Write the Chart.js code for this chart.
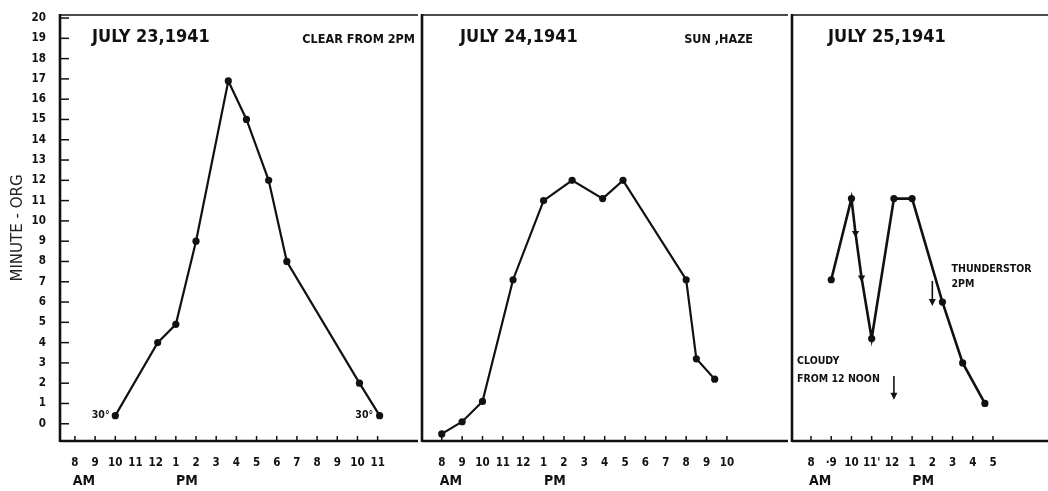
<!DOCTYPE html>
<html>
<head>
<meta charset="utf-8">
<script src="https://cdn.jsdelivr.net/npm/chart.js@4.4.1/dist/chart.umd.min.js"></script>
<style>
  body { margin: 0; background: #fff; }
  #wrap { position: relative; width: 1048px; height: 491px; overflow: hidden; }
  #wrap canvas { position: absolute; top: 0; }
</style>
</head>
<body>
<div id="wrap">
  <canvas id="c23" width="422" height="491" style="left:0"></canvas>
  <canvas id="c24" width="374" height="491" style="left:418px"></canvas>
  <canvas id="c25" width="265" height="491" style="left:788px"></canvas>
</div>
<script>
// values (hour of day, 24h clock)
const yTicks = [0, 1, 2, 3, 4, 5, 6, 7, 8, 9, 10, 11, 12, 13, 14, 15, 16, 17, 18, 19, 20];

const hours23 = [10, 12.1, 13, 14, 15.6, 16.5, 17.6, 18.5, 22.1, 23.1];
const org23 = [0.4, 4, 4.9, 9, 16.9, 15, 12, 8, 2, 0.4];
const ticks23 = [8, 9, 10, 11, 12, 13, 14, 15, 16, 17, 18, 19, 20, 21, 22, 23];
const labels23 = ["8", "9", "10", "11", "12", "1", "2", "3", "4", "5", "6", "7", "8", "9", "10", "11"];

const hours24 = [8, 9, 10, 11.5, 13, 14.4, 15.9, 16.9, 20, 20.5, 21.4];
const org24 = [-0.5, 0.1, 1.1, 7.1, 11, 12, 11.1, 12, 7.1, 3.2, 2.2];
const ticks24 = [8, 9, 10, 11, 12, 13, 14, 15, 16, 17, 18, 19, 20, 21, 22];
const labels24 = ["8", "9", "10", "11", "12", "1", "2", "3", "4", "5", "6", "7", "8", "9", "10"];

const hours25 = [9, 10, 10.2, 10.5, 11, 12.1, 13, 14.5, 15.5, 16.6];
const org25 = [7.1, 11.1, 9.4, 7.2, 4.2, 11.1, 11.1, 6, 3, 1];
const ticks25 = [8, 9, 10, 11, 12, 13, 14, 15, 16, 17];
const labels25 = ["8", "·9", "10", "11'", "12", "1", "2", "3", "4", "5"];

const ink = "#111";
const fontStack = '"DejaVu Sans Condensed", "DejaVu Sans", sans-serif';

function seg(ctx, x1, y1, x2, y2) {
  ctx.beginPath();
  ctx.moveTo(x1, y1);
  ctx.lineTo(x2, y2);
  ctx.stroke();
}

function makeFrame(panel) {
  return {
    id: "frame",
    afterDraw(chart) {
      let { ctx, chartArea: a, scales } = chart;
      let x = scales.x;
      let y = scales.y;
      ctx.save();
      ctx.strokeStyle = ink;
      ctx.fillStyle = ink;

      ctx.lineWidth = 1.6;
      seg(ctx, a.left, a.top, a.right, a.top);
      ctx.lineWidth = 2.6;
      seg(ctx, a.left, a.top - 1, a.left, a.bottom + 1);
      seg(ctx, a.left, a.bottom, a.right, a.bottom);

      ctx.lineWidth = 1.5;
      panel.ticks.forEach((v) => {
        let px = x.getPixelForValue(v);
        seg(ctx, px, a.bottom, px, a.bottom - 5);
      });
      if (panel.showY) {
        yTicks.forEach((v) => {
          let py = y.getPixelForValue(v);
          seg(ctx, a.left, py, a.left + 9, py);
        });
      }

      ctx.textBaseline = "middle";
      ctx.textAlign = "center";
      ctx.font = "bold 14px " + fontStack;
      ctx.fillText("AM", x.getPixelForValue(8.45), a.bottom + 40);
      ctx.fillText("PM", x.getPixelForValue(13.55), a.bottom + 40);

      ctx.textAlign = "left";
      ctx.font = "bold 18px " + fontStack;
      ctx.fillText(panel.date, a.left + panel.dateDx, a.top + 22);
      ctx.textAlign = "right";
      ctx.font = "bold 12.5px " + fontStack;
      ctx.fillText(panel.sky, a.right - panel.skyDx, a.top + 25);

      (panel.notes || []).forEach((n) => {
        ctx.textAlign = n.align;
        ctx.font = "bold 10.5px " + fontStack;
        ctx.fillText(n.text, x.getPixelForValue(n.x), y.getPixelForValue(n.y));
      });

      (panel.arrows || []).forEach((ar) => {
        let px = x.getPixelForValue(ar.x);
        let y1 = y.getPixelForValue(ar.from);
        let y2 = y.getPixelForValue(ar.to);
        ctx.lineWidth = 1.6;
        seg(ctx, px, y1, px, y2 - 6);
        ctx.beginPath();
        ctx.moveTo(px - 3.5, y2 - 7);
        ctx.lineTo(px + 3.5, y2 - 7);
        ctx.lineTo(px, y2);
        ctx.closePath();
        ctx.fill();
      });

      ctx.restore();
    },
  };
}

function makePanel(id, panel) {
  return new Chart(document.getElementById(id), {
    type: "line",
    data: {
      datasets: [
        {
          data: panel.hours.map((h, i) => ({ x: h, y: panel.values[i] })),
          borderColor: ink,
          borderWidth: panel.lineWidth,
          tension: 0,
          pointRadius: panel.pointRadius,
          pointStyle: panel.pointStyle,
          pointRotation: 180,
          pointBackgroundColor: ink,
          pointBorderColor: ink,
          pointBorderWidth: 0,
        },
      ],
    },
    options: {
      responsive: false,
      animation: false,
      layout: { padding: panel.padding },
      plugins: {
        legend: { display: false },
        tooltip: { enabled: false },
      },
      scales: {
        x: {
          type: "linear",
          min: panel.xMin,
          max: panel.xMax,
          afterBuildTicks: (s) => {
            s.ticks = panel.ticks.map((v) => ({ value: v }));
          },
          afterFit: (s) => {
            s.height = 50;
            s.paddingLeft = 0;
            s.paddingRight = 0;
          },
          grid: { display: false, drawTicks: false },
          border: { display: false },
          ticks: {
            autoSkip: false,
            maxRotation: 0,
            padding: 15,
            color: ink,
            font: { family: fontStack, size: 11.5, weight: "bold" },
            callback: (v, i) => panel.labels[i],
          },
        },
        y: {
          display: panel.showY,
          min: -0.85,
          max: 20.15,
          afterBuildTicks: (s) => {
            s.ticks = yTicks.map((v) => ({ value: v }));
          },
          afterFit: (s) => {
            s.width = panel.showY ? 60 : 0;
            s.paddingTop = 0;
            s.paddingBottom = 0;
          },
          grid: { display: false, drawTicks: false },
          border: { display: false },
          ticks: {
            padding: 14,
            color: ink,
            font: { family: fontStack, size: 11.5, weight: "bold" },
          },
          title: {
            display: true,
            text: "MINUTE - ORG",
            color: "#222",
            padding: { top: 9, bottom: 0 },
            font: { family: '"DejaVu Sans", sans-serif', size: 15 },
          },
        },
      },
    },
    plugins: [makeFrame(panel)],
  });
}

makePanel("c23", {
  hours: hours23, values: org23, ticks: ticks23, labels: labels23,
  xMin: 7.26, xMax: 25, showY: true, lineWidth: 2.2, pointRadius: 3.6, pointStyle: "circle",
  padding: { top: 15, right: 0, left: 0, bottom: 0 },
  date: "JULY 23,1941", dateDx: 32, sky: "CLEAR FROM 2PM", skyDx: 3,
  notes: [
    { text: "30°", x: 9.72, y: 0.4, align: "right" },
    { text: "30°", x: 22.78, y: 0.4, align: "right" },
  ],
});

makePanel("c24", {
  hours: hours24, values: org24, ticks: ticks24, labels: labels24,
  xMin: 7.03, xMax: 25, showY: false, lineWidth: 2.2, pointRadius: 3.6, pointStyle: "circle",
  padding: { top: 15, right: 0, left: 0, bottom: 0 },
  date: "JULY 24,1941", dateDx: 38, sky: "SUN ,HAZE", skyDx: 35,
});

makePanel("c25", {
  hours: hours25, values: org25, ticks: ticks25, labels: labels25,
  xMin: 7.06, xMax: 19.77, showY: false, lineWidth: 2.6,
  pointRadius: [3.6, 3.6, 4.2, 4.2, 3.6, 3.6, 3.6, 3.6, 3.6, 3.6],
  pointStyle: ["circle", "circle", "triangle", "triangle", "circle", "circle", "circle", "circle", "circle", "circle"],
  padding: { top: 15, right: 0, left: 0, bottom: 0 },
  date: "JULY 25,1941", dateDx: 36, sky: "", skyDx: 0,
  notes: [
    { text: "CLOUDY", x: 7.31, y: 3.1, align: "left" },
    { text: "FROM 12 NOON", x: 7.31, y: 2.2, align: "left" },
    { text: "THUNDERSTOR", x: 14.95, y: 7.6, align: "left" },
    { text: "2PM", x: 14.95, y: 6.9, align: "left" },
  ],
  arrows: [
    { x: 12.1, from: 2.36, to: 1.18 },
    { x: 14, from: 7.04, to: 5.8 },
  ],
});
</script>
</body>
</html>
